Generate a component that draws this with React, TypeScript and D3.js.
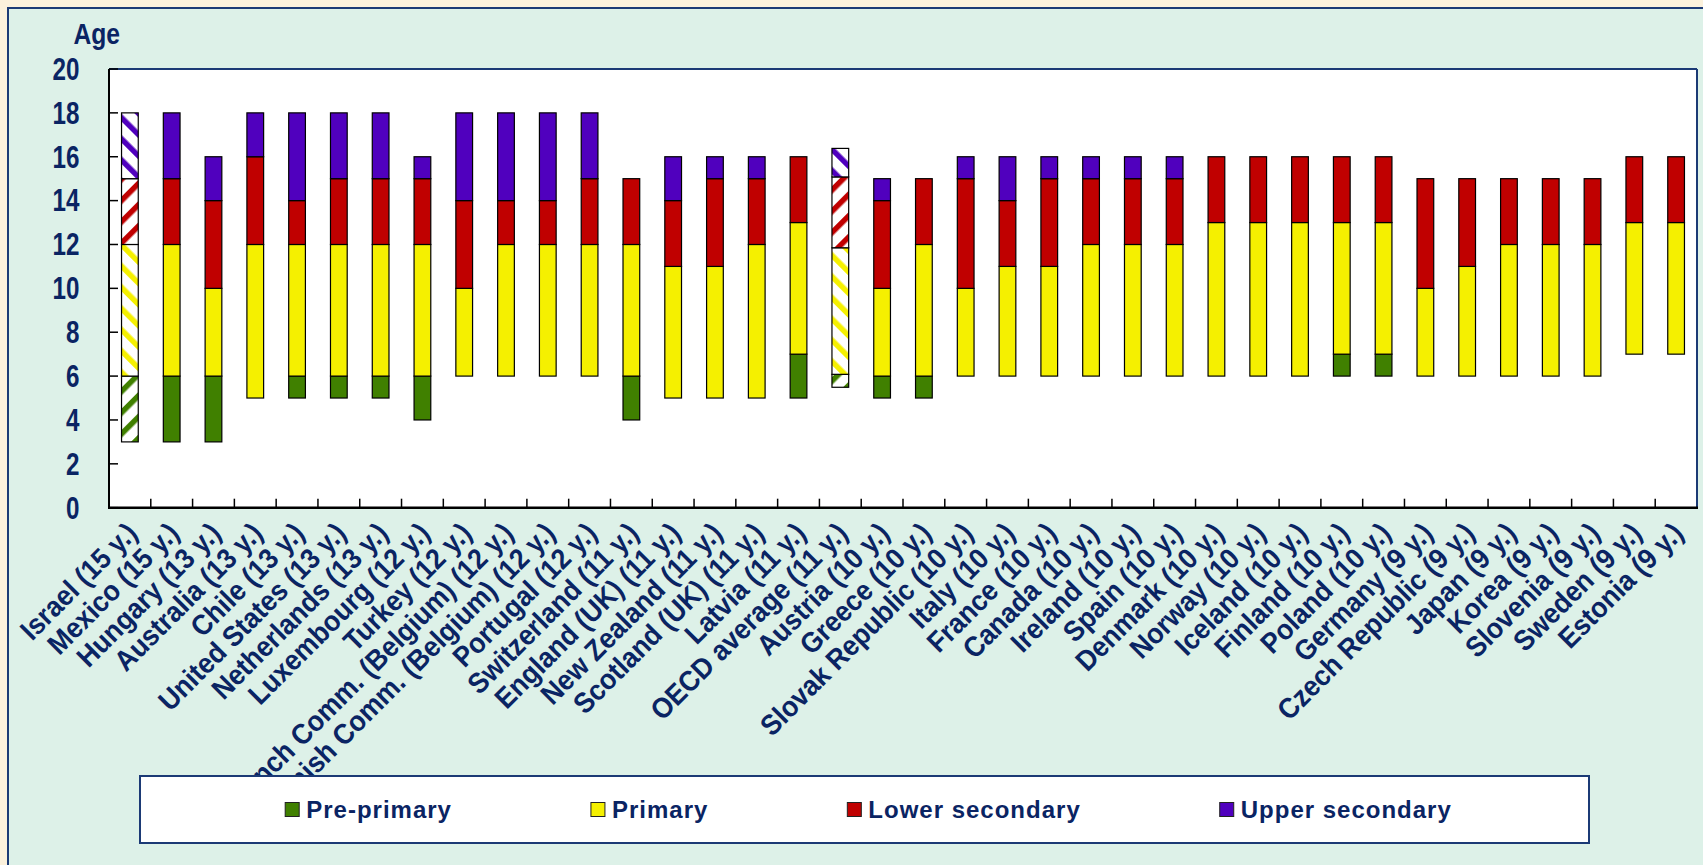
import React, { useEffect, useRef } from 'react';
import * as d3 from 'd3';

const categories = [
  'Israel (15 y.)', 'Mexico (15 y.)', 'Hungary (13 y.)', 'Australia (13 y.)', 'Chile (13 y.)',
  'United States (13 y.)', 'Netherlands (13 y.)', 'Luxembourg (12 y.)', 'Turkey (12 y.)',
  'French Comm. (Belgium) (12 y.)', 'Flemish Comm. (Belgium) (12 y.)', 'Portugal (12 y.)',
  'Switzerland (11 y.)', 'England (UK) (11 y.)', 'New Zealand (11 y.)', 'Scotland (UK) (11 y.)',
  'Latvia (11 y.)', 'OECD average (11 y.)', 'Austria (10 y.)', 'Greece (10 y.)',
  'Slovak Republic (10 y.)', 'Italy (10 y.)', 'France (10 y.)', 'Canada (10 y.)', 'Ireland (10 y.)',
  'Spain (10 y.)', 'Denmark (10 y.)', 'Norway (10 y.)', 'Iceland (10 y.)', 'Finland (10 y.)',
  'Poland (10 y.)', 'Germany (9 y.)', 'Czech Republic (9 y.)', 'Japan (9 y.)', 'Korea (9 y.)',
  'Slovenia (9 y.)', 'Sweden (9 y.)', 'Estonia (9 y.)'
];

// starting age of each level (equal to the next start when the level is absent)
const preStart =     [3, 3, 3, 5, 5, 5, 5, 4, 6, 6, 6, 6, 4, 5, 5, 5, 5, 5.49, 5, 5, 6, 6, 6, 6, 6, 6, 6, 6, 6, 6, 6, 6, 6, 6, 6, 6, 7, 7];
const primaryStart = [6, 6, 6, 5, 6, 6, 6, 6, 6, 6, 6, 6, 6, 5, 5, 5, 7, 6.08, 6, 6, 6, 6, 6, 6, 6, 6, 6, 6, 6, 7, 7, 6, 6, 6, 6, 6, 7, 7];
const lowerStart =   [12, 12, 10, 12, 12, 12, 12, 12, 10, 12, 12, 12, 12, 11, 11, 12, 13, 11.85, 10, 12, 10, 11, 11, 12, 12, 12, 13, 13, 13, 13, 13, 10, 11, 12, 12, 12, 13, 13];
const upperStart =   [15, 15, 14, 16, 14, 15, 15, 15, 14, 14, 14, 15, 15, 14, 15, 15, 16, 15.08, 14, 15, 15, 14, 15, 15, 15, 15, 16, 16, 16, 16, 16, 15, 15, 15, 15, 15, 16, 16];
const endAge =       [18, 18, 16, 18, 18, 18, 18, 16, 18, 18, 18, 18, 15, 16, 16, 16, 16, 16.38, 15, 15, 16, 16, 16, 16, 16, 16, 16, 16, 16, 16, 16, 15, 15, 15, 15, 15, 16, 16];

const hatchedCategories = ['Israel (15 y.)', 'OECD average (11 y.)'];

const levels = ['Pre-primary', 'Primary', 'Lower secondary', 'Upper secondary'];
const levelColors = ['#408000', '#F5F000', '#C00000', '#5000BE'];
const hatchAngles = [45, -45, 45, -45];

const yTicks = [0, 2, 4, 6, 8, 10, 12, 14, 16, 18, 20];
const yTitle = 'Age';

const W = 1703;
const H = 865;
const NAVY = '#0A2463';
const FONT = '"Liberation Sans", Arial, Helvetica, sans-serif';

export default function App() {
  const ref = useRef<SVGSVGElement>(null);

  useEffect(() => {
    document.body.style.margin = '0';
    const svg = d3.select(ref.current);
    svg.selectAll('*').remove();

    const m = { left: 109, right: 1697, top: 69, bottom: 507.7 };

    const x = d3.scaleBand<string>().domain(categories).range([m.left, m.right]).padding(0);
    const y = d3.scaleLinear().domain([0, 20]).range([m.bottom, m.top]);
    const barW = x.bandwidth() * 0.4;

    // patterns
    const defs = svg.append('defs');
    levelColors.forEach((c, k) => {
      const p = defs.append('pattern')
        .attr('id', `hatch${k}`)
        .attr('patternUnits', 'userSpaceOnUse')
        .attr('width', 15)
        .attr('height', 15)
        .attr('patternTransform', `rotate(${hatchAngles[k]})`);
      p.append('rect').attr('width', 15).attr('height', 15).attr('fill', '#fff');
      p.append('rect').attr('width', 5.5).attr('height', 15).attr('fill', c);
    });

    // backgrounds
    svg.append('rect').attr('x', 0).attr('y', 0).attr('width', W).attr('height', H).attr('fill', '#FBF1DC');
    svg.append('rect').attr('x', 8).attr('y', 8).attr('width', W + 20).attr('height', H + 20)
      .attr('fill', '#DDF1E8').attr('stroke', '#1B3A75').attr('stroke-width', 2);

    svg.append('rect').attr('x', m.left).attr('y', m.top)
      .attr('width', m.right - m.left).attr('height', m.bottom - m.top).attr('fill', '#fff');

    // bars
    const starts = [preStart, primaryStart, lowerStart, upperStart];
    const segs: { cat: string; k: number; a: number; b: number }[] = [];
    categories.forEach((cat, i) => {
      for (let k = 0; k < 4; k++) {
        const a = starts[k][i];
        const b = k < 3 ? starts[k + 1][i] : endAge[i];
        if (b - a > 0.001) segs.push({ cat, k, a, b });
      }
    });

    svg.append('g').selectAll('rect').data(segs).join('rect')
      .attr('x', d => (x(d.cat) as number) + (x.bandwidth() - barW) / 2)
      .attr('width', barW)
      .attr('y', d => y(d.b))
      .attr('height', d => y(d.a) - y(d.b))
      .attr('fill', d => hatchedCategories.includes(d.cat) ? `url(#hatch${d.k})` : levelColors[d.k])
      .attr('stroke', '#000')
      .attr('stroke-width', 1.2);

    // plot frame
    svg.append('line').attr('x1', m.left).attr('x2', m.right).attr('y1', m.top).attr('y2', m.top)
      .attr('stroke', '#1B3A75').attr('stroke-width', 2);
    svg.append('line').attr('x1', m.right).attr('x2', m.right).attr('y1', m.top).attr('y2', m.bottom)
      .attr('stroke', '#1B3A75').attr('stroke-width', 2);
    svg.append('line').attr('x1', m.left).attr('x2', m.left).attr('y1', m.top).attr('y2', m.bottom)
      .attr('stroke', '#000').attr('stroke-width', 2);

    // y ticks
    svg.append('g').selectAll('line').data(yTicks).join('line')
      .attr('x1', m.left).attr('x2', m.left + 9)
      .attr('y1', d => y(d)).attr('y2', d => y(d))
      .attr('stroke', '#000').attr('stroke-width', 1.5);

    // x ticks at band boundaries
    const bounds = categories.slice(1).map(c => x(c) as number);
    svg.append('g').selectAll('line').data(bounds).join('line')
      .attr('x1', d => d).attr('x2', d => d)
      .attr('y1', m.bottom).attr('y2', m.bottom - 9)
      .attr('stroke', '#000').attr('stroke-width', 1.5);

    svg.append('line').attr('x1', m.left - 1).attr('x2', m.right + 1).attr('y1', m.bottom).attr('y2', m.bottom)
      .attr('stroke', '#000').attr('stroke-width', 2.5);

    // y tick labels
    svg.append('g').selectAll('text').data(yTicks).join('text')
      .attr('transform', d => `translate(79.5,${y(d) + 10.8}) scale(0.82,1.04)`)
      .attr('text-anchor', 'end')
      .attr('font-family', FONT).attr('font-weight', 'bold').attr('font-size', 29.5)
      .attr('fill', NAVY)
      .text(d => String(d));

    svg.append('text')
      .attr('transform', `translate(96.7,43.5) scale(0.88,1.05)`)
      .attr('text-anchor', 'middle')
      .attr('font-family', FONT).attr('font-weight', 'bold').attr('font-size', 28)
      .attr('fill', NAVY)
      .text(yTitle);

    // category labels
    svg.append('g').selectAll('text').data(categories).join('text')
      .attr('transform', d => `translate(${(x(d) as number) + x.bandwidth() / 2 + 9},${m.bottom + 27}) rotate(-45) scale(1,1.08)`)
      .attr('text-anchor', 'end')
      .attr('font-family', FONT).attr('font-weight', 'bold').attr('font-size', 26.5)
      .attr('fill', NAVY)
      .text(d => d);

    // legend
    const lg = { x: 140, y: 776, w: 1449, h: 67 };
    svg.append('rect').attr('x', lg.x).attr('y', lg.y).attr('width', lg.w).attr('height', lg.h)
      .attr('fill', '#fff').attr('stroke', '#1B3A75').attr('stroke-width', 2);

    const gL = svg.append('g');
    const items = levels.map((name, k) => {
      const g = gL.append('g');
      g.append('rect').attr('x', 0).attr('y', -7).attr('width', 14).attr('height', 14)
        .attr('fill', levelColors[k]).attr('stroke', '#222').attr('stroke-width', 1);
      const t = g.append('text').attr('x', 21).attr('y', 8)
        .attr('font-family', FONT).attr('font-weight', 'bold').attr('font-size', 24)
        .attr('letter-spacing', 1)
        .attr('fill', NAVY).text(name);
      const tw = (t.node() as SVGTextElement).getComputedTextLength();
      return { g, w: 21 + tw };
    });
    const gap = 139;
    const total = d3.sum(items, d => d.w) + gap * (items.length - 1);
    let cx = lg.x + (lg.w - total) / 2 + 4;
    items.forEach(it => {
      it.g.attr('transform', `translate(${cx},${lg.y + lg.h / 2})`);
      cx += it.w + gap;
    });
  }, []);

  return <svg ref={ref} width={W} height={H} style={{ display: 'block', position: 'absolute', left: 0, top: 0 }} />;
}
